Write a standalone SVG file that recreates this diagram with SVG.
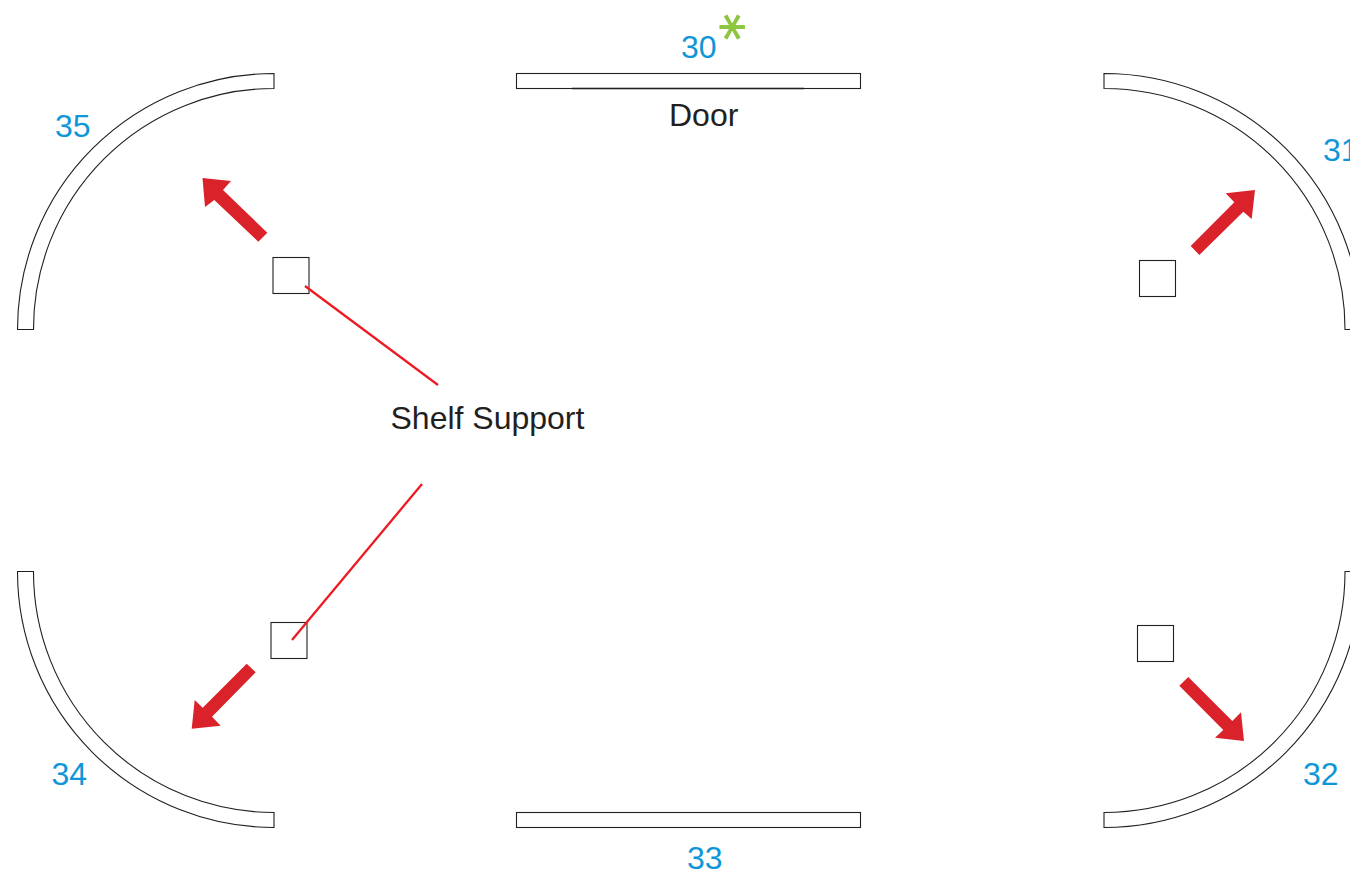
<svg xmlns="http://www.w3.org/2000/svg" width="1350" height="873" viewBox="0 0 1350 873">
<style>
.w{fill:#fff;stroke:#231f20;stroke-width:1.1}
.a{fill:#d9222a;stroke:none}
.l{stroke:#ed1c24;stroke-width:2.3;fill:none}
text{font-family:"Liberation Sans",Arial,sans-serif;font-size:32px}
.n{fill:#0f96d8}
.k{fill:#231f20}
</style>
<rect width="1350" height="873" fill="#fff"/>
<g id="panel-30"><rect class="w" x="516.5" y="73.5" width="344" height="15"/><path d="M572 88.5H804" stroke="#231f20" stroke-width="1.6" fill="none"/><text class="n" x="681" y="58">30</text><text x="725" y="28" transform="rotate(90 725 28) translate(-1 0)" dy="20" text-anchor="middle" style="font-family:'DejaVu Sans',sans-serif;font-size:54px;fill:#8dc63f;stroke:#8dc63f;stroke-width:1">*</text><text class="k" x="669" y="126">Door</text></g>
<g id="panel-31"><path class="w" d="M1104 73.500A257 256 0 0 1 1361 329.500H1345A241 240.500 0 0 0 1104 88.500Z"/><text class="n" x="1323" y="161">31</text></g>
<g id="panel-32"><path class="w" d="M1104 827.500A257 256 0 0 0 1361 571.500H1345A241 240.500 0 0 1 1104 812.500Z"/><text class="n" x="1303" y="785">32</text></g>
<g id="panel-33"><rect class="w" x="516.500" y="812.500" width="344" height="15"/><text class="n" x="687" y="869">33</text></g>
<g id="panel-34"><path class="w" d="M274 827.500A256.500 256 0 0 1 17.500 571.500H33.500A240.500 240.500 0 0 0 274 812.500Z"/><text class="n" x="51.500" y="785">34</text></g>
<g id="panel-35"><path class="w" d="M274 73.500A256.500 256 0 0 0 17.500 329.500H33.500A240.500 240.500 0 0 1 274 88.500Z"/><text class="n" x="55" y="137">35</text></g>
<g id="support-tl"><rect class="w" x="273" y="257.500" width="36" height="36"/></g>
<g id="support-tr"><rect class="w" x="1139.500" y="260.500" width="36" height="36"/></g>
<g id="support-br"><rect class="w" x="1137.500" y="625.500" width="36" height="36"/></g>
<g id="support-bl"><rect class="w" x="271" y="622.500" width="36" height="36"/></g>
<text class="k" x="390.500" y="429">Shelf Support</text>
<g id="connectors">
<path class="l" d="M305 286L438 385M422 484L292 640"/>
<polygon class="a" points="202.500,178 231,181 223,190 267.300,232.700 258.300,241.700 214.300,200 205,207"/>
<polygon class="a" points="1255,190 1225.700,193.300 1234.300,202.300 1190.700,246 1199.300,255 1243.300,211.700 1251.700,219"/>
<polygon class="a" points="1244,741 1215,737.700 1223.300,730 1179.300,685.700 1188.300,677 1232.300,721 1241,712.300"/>
<polygon class="a" points="191.700,728.700 220.700,725.700 212,716.700 255.700,672.300 246.700,663.700 202.700,707.700 194.700,700"/>
</g>
</svg>
